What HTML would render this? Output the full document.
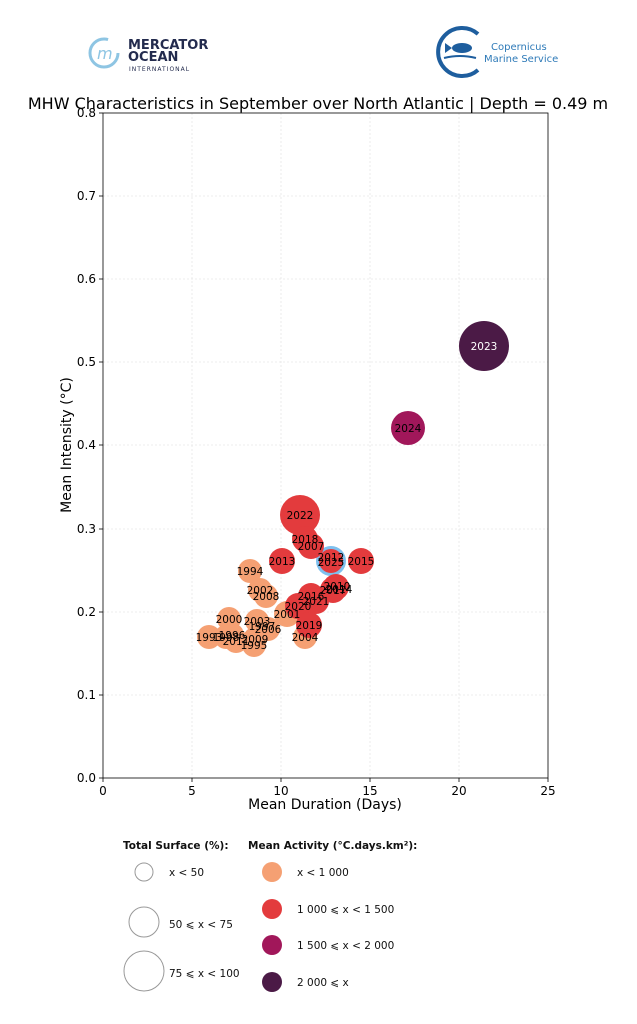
<!DOCTYPE html>
<html><head><meta charset="utf-8"><style>body{margin:0;background:#fff}svg{display:block;font-family:"DejaVu Sans","Liberation Sans",sans-serif}</style></head>
<body>
<svg width="637" height="1024" viewBox="0 0 637 1024" xmlns="http://www.w3.org/2000/svg">
<rect width="637" height="1024" fill="#fff"/>
<g>
<circle cx="104" cy="53" r="14" fill="none" stroke="#8ec5e3" stroke-width="3" stroke-dasharray="70 18"/>
<text x="97" y="59" font-size="16" fill="#8ec5e3" font-style="italic">m</text>
<text x="128" y="49" font-size="13" font-weight="bold" fill="#232b4e">MERCATOR</text>
<text x="128" y="61" font-size="13" font-weight="bold" fill="#232b4e">OCEAN</text>
<text x="129" y="71" font-size="6" fill="#232b4e" letter-spacing="1">INTERNATIONAL</text>
</g>
<g>
<path d="M478 34 A24 24 0 1 0 478 70" fill="none" stroke="#1e5e9e" stroke-width="4"/>
<ellipse cx="462" cy="48" rx="10" ry="5" fill="#1e5e9e"/>
<path d="M452 48 L445 43 L445 53 Z" fill="#1e5e9e"/>
<path d="M444 58 Q460 54 476 58" stroke="#1e5e9e" stroke-width="2" fill="none"/>
<text x="491" y="50" font-size="10" fill="#2e7ab8">Copernicus</text>
<text x="484" y="62" font-size="10" fill="#2e7ab8">Marine Service</text>
</g>
<text x="318" y="109" font-size="16" text-anchor="middle" fill="#000">MHW Characteristics in September over North Atlantic | Depth = 0.49 m</text>
<g stroke="#e6e6e6" stroke-width="0.8" stroke-dasharray="2 2">
<line x1="192" y1="113" x2="192" y2="778"/><line x1="281" y1="113" x2="281" y2="778"/><line x1="370" y1="113" x2="370" y2="778"/><line x1="459" y1="113" x2="459" y2="778"/>
<line x1="103" y1="695" x2="548" y2="695"/><line x1="103" y1="612" x2="548" y2="612"/><line x1="103" y1="529" x2="548" y2="529"/><line x1="103" y1="445" x2="548" y2="445"/><line x1="103" y1="362" x2="548" y2="362"/><line x1="103" y1="279" x2="548" y2="279"/><line x1="103" y1="196" x2="548" y2="196"/>
</g>
<g fill="#f5a073">
<circle cx="250" cy="571" r="12"/><circle cx="260" cy="590" r="12"/><circle cx="266" cy="596" r="12"/>
<circle cx="229" cy="619" r="12"/><circle cx="257" cy="621" r="12"/><circle cx="262" cy="627" r="12"/><circle cx="268" cy="629" r="12"/>
<circle cx="209" cy="637" r="12"/><circle cx="226" cy="637" r="12"/><circle cx="232" cy="635" r="12"/><circle cx="236" cy="641" r="12"/><circle cx="255" cy="639" r="12"/><circle cx="254" cy="645" r="12"/>
<circle cx="287" cy="614" r="13"/><circle cx="305" cy="637" r="12"/>
</g>
<circle cx="331" cy="561" r="15" fill="#7ec0ee"/>
<g fill="#e33b3d">
<circle cx="300" cy="515" r="20"/><circle cx="305" cy="539" r="13"/><circle cx="311" cy="546" r="13"/>
<circle cx="282" cy="561" r="13"/><circle cx="331" cy="561" r="12"/><circle cx="361" cy="561" r="13"/>
<circle cx="336" cy="587" r="13"/><circle cx="333" cy="590" r="13"/>
<circle cx="311" cy="596" r="13"/><circle cx="316" cy="601" r="13"/><circle cx="298" cy="606" r="13"/><circle cx="309" cy="625" r="13"/>
</g>
<circle cx="408" cy="428" r="17" fill="#a1175a"/>
<circle cx="484" cy="346" r="25" fill="#4b1a46"/>
<g font-size="10.5" text-anchor="middle" fill="#000">
<text x="484" y="350" fill="#fff">2023</text><text x="408" y="432">2024</text><text x="300" y="519">2022</text>
<text x="305" y="543">2018</text><text x="311" y="550">2007</text><text x="282" y="565">2013</text>
<text x="331" y="561">2012</text><text x="331" y="566">2025</text><text x="361" y="565">2015</text>
<text x="337" y="590">2010</text><text x="333" y="594">2017</text><text x="339" y="593">2014</text>
<text x="311" y="600">2016</text><text x="316" y="605">2021</text><text x="298" y="610">2020</text>
<text x="287" y="618">2001</text><text x="309" y="629">2019</text><text x="305" y="641">2004</text>
<text x="250" y="575">1994</text><text x="260" y="594">2002</text><text x="266" y="600">2008</text>
<text x="229" y="623">2000</text><text x="257" y="625">2003</text><text x="262" y="630">1997</text><text x="268" y="633">2006</text>
<text x="209" y="641">1993</text><text x="226" y="641">1998</text><text x="232" y="639">1996</text><text x="236" y="645">2011</text><text x="255" y="643">2009</text><text x="254" y="649">1995</text>
</g>
<rect x="103" y="113" width="445" height="665" fill="none" stroke="#000" stroke-width="0.8"/>
<g stroke="#000" stroke-width="0.8">
<line x1="103" y1="778" x2="103" y2="782"/><line x1="192" y1="778" x2="192" y2="782"/><line x1="281" y1="778" x2="281" y2="782"/><line x1="370" y1="778" x2="370" y2="782"/><line x1="459" y1="778" x2="459" y2="782"/><line x1="548" y1="778" x2="548" y2="782"/>
<line x1="99" y1="778" x2="103" y2="778"/><line x1="99" y1="695" x2="103" y2="695"/><line x1="99" y1="612" x2="103" y2="612"/><line x1="99" y1="529" x2="103" y2="529"/><line x1="99" y1="445" x2="103" y2="445"/><line x1="99" y1="362" x2="103" y2="362"/><line x1="99" y1="279" x2="103" y2="279"/><line x1="99" y1="196" x2="103" y2="196"/><line x1="99" y1="113" x2="103" y2="113"/>
</g>
<g font-size="12" fill="#000" text-anchor="middle">
<text x="103" y="795">0</text><text x="192" y="795">5</text><text x="281" y="795">10</text><text x="370" y="795">15</text><text x="459" y="795">20</text><text x="548" y="795">25</text>
</g>
<g font-size="12" fill="#000" text-anchor="end">
<text x="96" y="782">0.0</text><text x="96" y="699">0.1</text><text x="96" y="616">0.2</text><text x="96" y="533">0.3</text><text x="96" y="449">0.4</text><text x="96" y="366">0.5</text><text x="96" y="283">0.6</text><text x="96" y="200">0.7</text><text x="96" y="117">0.8</text>
</g>
<text x="325" y="809" font-size="14" text-anchor="middle">Mean Duration (Days)</text>
<text transform="translate(71 445) rotate(-90)" font-size="14" text-anchor="middle">Mean Intensity (°C)</text>
<g font-size="10.5" fill="#111">
<text x="123" y="849" font-weight="bold">Total Surface (%):</text>
<circle cx="144" cy="872" r="9" fill="none" stroke="#999"/><text x="169" y="876">x &lt; 50</text>
<circle cx="144" cy="922" r="15" fill="none" stroke="#999"/><text x="169" y="928">50 ⩽ x &lt; 75</text>
<circle cx="144" cy="971" r="20" fill="none" stroke="#999"/><text x="169" y="977">75 ⩽ x &lt; 100</text>
<text x="248" y="849" font-weight="bold">Mean Activity (°C.days.km²):</text>
<circle cx="272" cy="872" r="10" fill="#f5a073"/><text x="297" y="876">x &lt; 1 000</text>
<circle cx="272" cy="909" r="10" fill="#e33b3d"/><text x="297" y="913">1 000 ⩽ x &lt; 1 500</text>
<circle cx="272" cy="945" r="10" fill="#a1175a"/><text x="297" y="949">1 500 ⩽ x &lt; 2 000</text>
<circle cx="272" cy="982" r="10" fill="#4b1a46"/><text x="297" y="986">2 000 ⩽ x</text>
</g>
</svg>
</body></html>
